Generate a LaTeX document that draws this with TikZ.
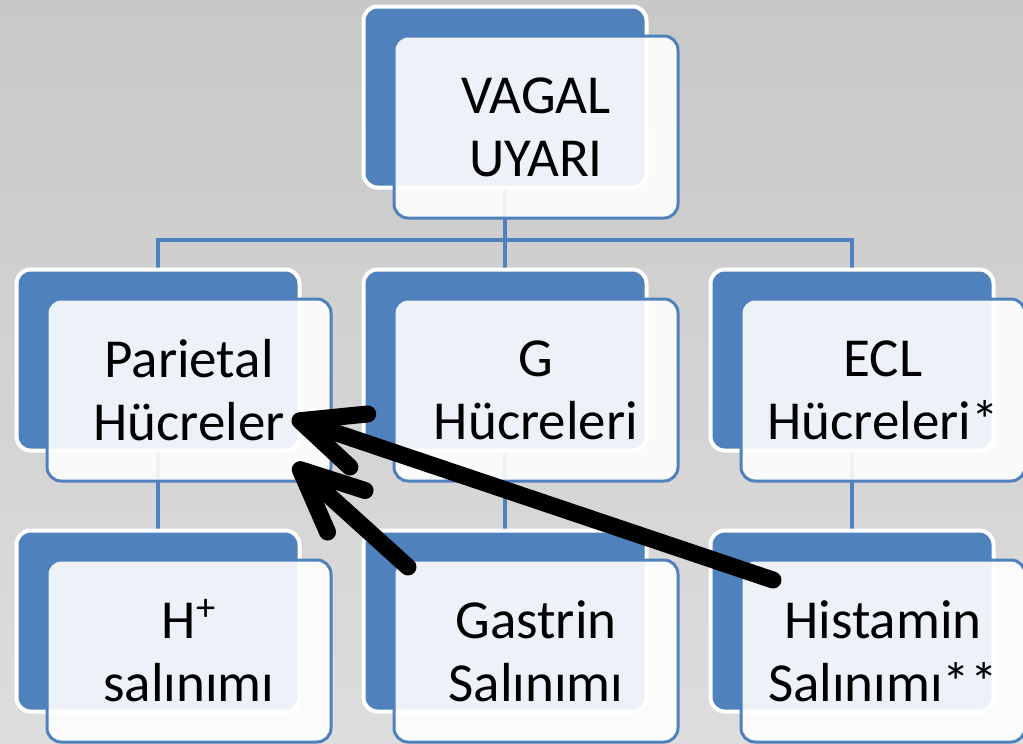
\documentclass[tikz,border=0pt]{standalone}
\usepackage{fontspec}
\setmainfont{Carlito}
\usetikzlibrary{arrows.meta}
\definecolor{boxblue}{HTML}{4F81BD}
\definecolor{bgtop}{HTML}{C8C8C8}
\definecolor{bgbot}{HTML}{DDDDDD}
\pgfdeclarelayer{bg}
\pgfdeclarelayer{links}
\pgfsetlayers{bg,links,main}

\begin{document}
\begin{tikzpicture}[x=0.5pt,y=-0.5pt,
                        back/.style={draw=white, line width=2pt, fill=boxblue, rounded corners=7pt,
                                     minimum width=141.5pt, minimum height=90.5pt},
                        front/.style={draw=boxblue, line width=1.5pt, fill=white, fill opacity=0.9,
                                      text opacity=1, rounded corners=7pt, minimum width=142pt,
                                      minimum height=91pt, align=center,
                                      font=\fontsize{27.5}{31.5}\selectfont,
                                      xshift=15.5pt, yshift=-15pt},
                        link/.style={draw=boxblue, line width=2pt},
                        hint/.style={line width=8.5pt, line cap=round,
                                     -{Straight Barb[length=31pt,width=28pt,round]}}]
                        \useasboundingbox (0,0) rectangle (1023,744);
                        \begin{pgfonlayer}{bg}
                            \shade[top color=bgtop, bottom color=bgbot] (0,0) rectangle (1023,744);
                        \end{pgfonlayer}
                        % top
                        \node[back] (vagalback) at (505,97) {};
                        \node[front] (vagal) at (vagalback) {VAGAL\\UYARI};
                        % cells
                        \node[back] (parback) at (158,360) {};
                        \node[front] (par) at (parback) {Parietal\\Hücreler};
                        \node[back] (gback) at (505,360) {};
                        \node[front] (g) at (gback) {G\\Hücreleri};
                        \node[back] (eclback) at (852,360) {};
                        \node[front] (ecl) at (eclback) {ECL\\Hücreleri*};
                        % releases
                        \node[back] (hback) at (158,621) {};
                        \node[front] (h) at (hback) {H\textsuperscript{+}\\salınımı};
                        \node[back] (gasback) at (505,621) {};
                        \node[front] (gas) at (gasback) {Gastrin\\Salınımı};
                        \node[back] (histback) at (852,621) {};
                        \node[front] (hist) at (histback) {Histamin\\Salınımı**};
                        \begin{pgfonlayer}{links}
                            \coordinate (bus) at (505,240);
                            \draw[link] (vagalback.south) -- (bus);
                            \draw[link] (parback.north) |- (bus) -| (eclback.north);
                            \draw[link] (bus) -- (gback.north);
                            \draw[link] (parback.south) -- (hback.north);
                            \draw[link] (gback.south) -- (gasback.north);
                            \draw[link] (eclback.south) -- (histback.north);
                        \end{pgfonlayer}
                        % effects on parietal cells
                        \coordinate (histtail) at (773,580);
                        \coordinate (gastail) at (408,567);
                        \coordinate (tipA) at (292,418);
                        \coordinate (tipB) at (294,464);
                        \draw[hint] (histtail) -- (tipA);
                        \draw[hint] (gastail) -- (tipB);
                    \end{tikzpicture}
\end{document}
